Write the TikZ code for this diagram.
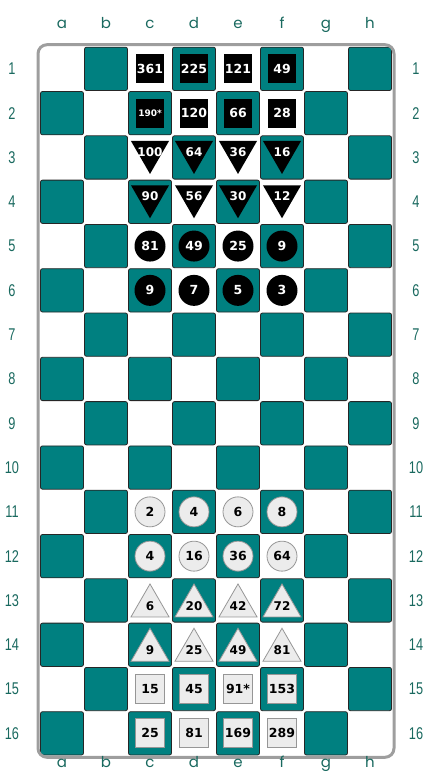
\documentclass[tikz,border=0pt]{standalone}
\usepackage{fontspec}
\setmainfont{DejaVu Sans}
\newfontfamily\filefont{Poppins}
\newfontfamily\rankfont[FakeStretch=0.75]{Liberation Sans}
\usetikzlibrary{shapes.geometric}

\definecolor{boardteal}{RGB}{0,128,128}
\definecolor{labelteal}{RGB}{25,105,95}
\definecolor{lightpiece}{RGB}{236,236,236}
\definecolor{piecerim}{RGB}{150,150,150}
\definecolor{framegray}{RGB}{158,158,158}

\begin{document}
\begin{tikzpicture}[x=1pt, y=-1pt,
    darksq/.style={fill=boardteal, draw=black!85, line width=0.8pt, rounded corners=2pt},
    filelabel/.style={text=labelteal, font=\filefont\fontsize{15}{15}\selectfont, anchor=base},
    ranklabel/.style={text=labelteal, font=\rankfont\fontsize{17}{17}\selectfont},
    whitenum/.style={text=white, font=\bfseries\fontsize{12.5}{12.5}\selectfont, inner sep=0pt},
    blacknum/.style={text=black, font=\bfseries\fontsize{12.5}{12.5}\selectfont, inner sep=0pt},
    trinum/.style={font=\bfseries\fontsize{12}{12}\selectfont},
    blackpiece/.style={fill=black, whitenum},
    whitepiece/.style={fill=lightpiece, draw=piecerim, line width=0.8pt, blacknum},
    bsquare/.style={blackpiece, rectangle, minimum width=28pt, minimum height=29pt},
    bdisc/.style={blackpiece, circle, minimum size=31pt},
    btri/.style={blackpiece, regular polygon, regular polygon sides=3, shape border rotate=180, minimum size=44pt},
    wsquare/.style={whitepiece, rectangle, minimum size=29pt},
    wdisc/.style={whitepiece, circle, minimum size=30pt},
    wtri/.style={whitepiece, regular polygon, regular polygon sides=3, minimum size=44pt}
]
    \useasboundingbox (0,0) rectangle (431,774);

    % board
    \foreach \i in {0,...,7} {
        \foreach \j in {0,...,15} {
            \pgfmathtruncatemacro{\odd}{mod(\i+\j,2)}
            \ifnum\odd=1
                \draw[darksq] ({40.5+44*\i},{47.2+44.3*\j}) rectangle ++(43,43.3);
            \fi
        }
    }
    \draw[framegray, line width=3pt, rounded corners=9pt] (38,44.7) rectangle (394,757.3);

    % files and ranks
    \foreach \f [count=\k from 0] in {a,b,c,d,e,f,g,h} {
        \node[filelabel] (top\f) at ({62+44*\k},28) {\f};
        \node[filelabel] (bot\f) at ({62+44*\k},767) {\f};
    }
    \foreach \r in {1,...,16} {
        \node[ranklabel] (left\r) at (12,{68.85+44.3*(\r-1)}) {\r};
        \node[ranklabel] (right\r) at (416,{68.85+44.3*(\r-1)}) {\r};
    }

    % black pieces
    \node[bsquare] (c1) at (150,68.85) {361};
    \node[bsquare] (d1) at (194,68.85) {225};
    \node[bsquare] (e1) at (238,68.85) {121};
    \node[bsquare] (f1) at (282,68.85) {49};

    \node[bsquare, font=\bfseries\fontsize{9}{9}\selectfont] (c2) at (150,113.15) {190*};
    \node[bsquare] (d2) at (194,113.15) {120};
    \node[bsquare] (e2) at (238,113.15) {66};
    \node[bsquare] (f2) at (282,113.15) {28};

    \node[btri, label={[whitenum, trinum]center:100}] (c3) at (150,151.95) {};
    \node[btri, label={[whitenum, trinum]center:64}] (d3) at (194,151.95) {};
    \node[btri, label={[whitenum, trinum]center:36}] (e3) at (238,151.95) {};
    \node[btri, label={[whitenum, trinum]center:16}] (f3) at (282,151.95) {};

    \node[btri, label={[whitenum, trinum]center:90}] (c4) at (150,196.25) {};
    \node[btri, label={[whitenum, trinum]center:56}] (d4) at (194,196.25) {};
    \node[btri, label={[whitenum, trinum]center:30}] (e4) at (238,196.25) {};
    \node[btri, label={[whitenum, trinum]center:12}] (f4) at (282,196.25) {};

    \node[bdisc] (c5) at (150,246.05) {81};
    \node[bdisc] (d5) at (194,246.05) {49};
    \node[bdisc] (e5) at (238,246.05) {25};
    \node[bdisc] (f5) at (282,246.05) {9};

    \node[bdisc] (c6) at (150,290.35) {9};
    \node[bdisc] (d6) at (194,290.35) {7};
    \node[bdisc] (e6) at (238,290.35) {5};
    \node[bdisc] (f6) at (282,290.35) {3};

    % white pieces
    \node[wdisc] (c11) at (150,511.85) {2};
    \node[wdisc] (d11) at (194,511.85) {4};
    \node[wdisc] (e11) at (238,511.85) {6};
    \node[wdisc] (f11) at (282,511.85) {8};

    \node[wdisc] (c12) at (150,556.15) {4};
    \node[wdisc] (d12) at (194,556.15) {16};
    \node[wdisc] (e12) at (238,556.15) {36};
    \node[wdisc] (f12) at (282,556.15) {64};

    \node[wtri, label={[blacknum, trinum]center:6}] (c13) at (150,605.95) {};
    \node[wtri, label={[blacknum, trinum]center:20}] (d13) at (194,605.95) {};
    \node[wtri, label={[blacknum, trinum]center:42}] (e13) at (238,605.95) {};
    \node[wtri, label={[blacknum, trinum]center:72}] (f13) at (282,605.95) {};

    \node[wtri, label={[blacknum, trinum]center:9}] (c14) at (150,650.25) {};
    \node[wtri, label={[blacknum, trinum]center:25}] (d14) at (194,650.25) {};
    \node[wtri, label={[blacknum, trinum]center:49}] (e14) at (238,650.25) {};
    \node[wtri, label={[blacknum, trinum]center:81}] (f14) at (282,650.25) {};

    \node[wsquare] (c15) at (150,689.05) {15};
    \node[wsquare] (d15) at (194,689.05) {45};
    \node[wsquare] (e15) at (238,689.05) {91*};
    \node[wsquare] (f15) at (282,689.05) {153};

    \node[wsquare] (c16) at (150,733.35) {25};
    \node[wsquare] (d16) at (194,733.35) {81};
    \node[wsquare] (e16) at (238,733.35) {169};
    \node[wsquare] (f16) at (282,733.35) {289};

\end{tikzpicture}
\end{document}
